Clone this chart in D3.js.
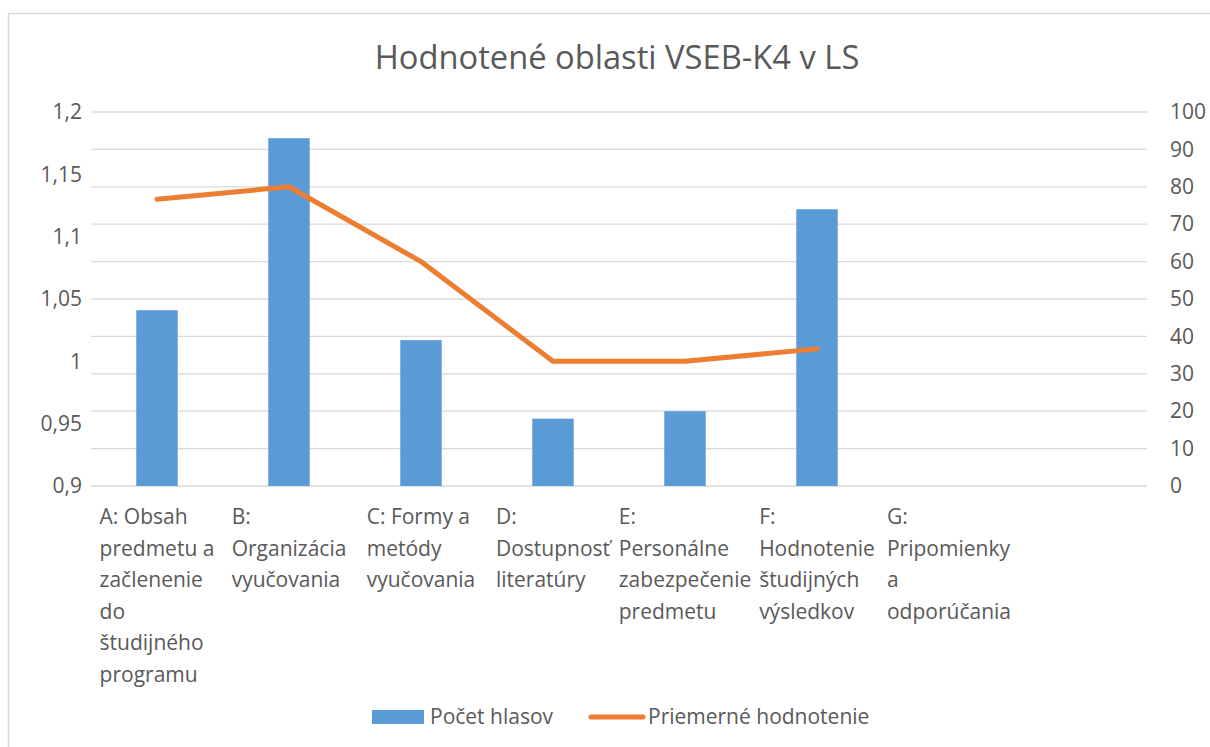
<!DOCTYPE html>
<html>
<head>
<meta charset="utf-8">
<script src="https://cdn.jsdelivr.net/npm/d3@7"></script>
<style>
  html, body { margin: 0; padding: 0; background: #fff; }
  text { font-family: "Open Sans", sans-serif; fill: #595959; }
</style>
</head>
<body>
<div id="chart"></div>
<script>
// category labels, already wrapped the way the original shows them
const categories = [
  ["A: Obsah", "predmetu a", "začlenenie", "do", "študijného", "programu"],
  ["B:", "Organizácia", "vyučovania"],
  ["C: Formy a", "metódy", "vyučovania"],
  ["D:", "Dostupnosť", "literatúry"],
  ["E:", "Personálne", "zabezpečenie", "predmetu"],
  ["F:", "Hodnotenie", "študijných", "výsledkov"],
  ["G:", "Pripomienky", "a", "odporúčania"],
  []
];
const votes = [47, 93, 39, 18, 20, 74, null, null];          // Počet hlasov (right axis)
const avgRating = [1.13, 1.14, 1.08, 1.0, 1.0, 1.01, null, null]; // Priemerné hodnotenie (left axis)
const leftTicks = [0.9, 0.95, 1, 1.05, 1.1, 1.15, 1.2];
const rightTicks = [0, 10, 20, 30, 40, 50, 60, 70, 80, 90, 100];

const W = 1210, H = 747;
const plot = { left: 91, right: 1147, top: 112, bottom: 486 };

const svg = d3.select("#chart").append("svg")
  .attr("width", W)
  .attr("height", H);

// chart frame (only top/left edges are in view)
svg.append("rect")
  .attr("x", 8.5).attr("y", 13.5)
  .attr("width", 1300).attr("height", 900)
  .attr("fill", "none")
  .attr("stroke", "#d9d9d9")
  .attr("stroke-width", 1.5);

const idx = categories.map((d, i) => i);

const x = d3.scaleBand()
  .domain(idx)
  .range([plot.left, plot.right])
  .paddingInner(0.686)
  .paddingOuter(0.343);

const yLeft = d3.scaleLinear().domain([0.9, 1.2]).range([plot.bottom, plot.top]);
const yRight = d3.scaleLinear().domain([0, 100]).range([plot.bottom, plot.top]);

// gridlines
svg.append("g")
  .selectAll("line")
  .data(rightTicks)
  .join("line")
  .attr("x1", plot.left).attr("x2", plot.right)
  .attr("y1", d => yRight(d)).attr("y2", d => yRight(d))
  .attr("stroke", "#d9d9d9")
  .attr("stroke-width", 1.3);

// --- bars ---
svg.append("g")
  .selectAll("rect")
  .data(idx.filter(i => votes[i] != null))
  .join("rect")
  .attr("x", i => x(i))
  .attr("y", i => yRight(votes[i]))
  .attr("width", x.bandwidth())
  .attr("height", i => yRight(0) - yRight(votes[i]))
  .attr("fill", "#5b9bd5");

// --- line ---
const line = d3.line()
  .defined(i => avgRating[i] != null)
  .x(i => x(i) + x.bandwidth() / 2)
  .y(i => yLeft(avgRating[i]));

svg.append("path")
  .datum(idx)
  .attr("d", line)
  .attr("fill", "none")
  .attr("stroke", "#ed7d31")
  .attr("stroke-width", 5)
  .attr("stroke-linecap", "round")
  .attr("stroke-linejoin", "round");

// --- axes ---
const fontSize = "21px";

const leftAxis = svg.append("g")
  .attr("transform", `translate(${plot.left - 6},0)`)
  .call(d3.axisLeft(yLeft).tickValues(leftTicks).tickSize(0)
    .tickFormat(d => String(+d.toFixed(2)).replace(".", ",")));
leftAxis.select(".domain").remove();
leftAxis.selectAll("text")
  .attr("fill", "#595959")
  .style("font-family", "Open Sans")
  .style("font-size", fontSize);

const rightAxis = svg.append("g")
  .attr("transform", `translate(${plot.right + 20},0)`)
  .call(d3.axisRight(yRight).tickValues(rightTicks).tickSize(0));
rightAxis.select(".domain").remove();
rightAxis.selectAll("text")
  .attr("fill", "#595959")
  .style("font-family", "Open Sans")
  .style("font-size", fontSize);

// --- category labels: block centred in band, lines left-aligned ---
const lineH = 31.5;
const catLabels = svg.append("g")
  .selectAll("text")
  .data(idx)
  .join("text")
  .style("font-size", fontSize)
  .attr("y", 524);

catLabels.each(function (i) {
  const t = d3.select(this);
  categories[i].forEach((s, k) => {
    t.append("tspan").attr("x", 0).attr("dy", k === 0 ? 0 : lineH).text(s);
  });
  let maxW = 0;
  t.selectAll("tspan").each(function () {
    maxW = Math.max(maxW, this.getComputedTextLength());
  });
  const left = x(i) + x.bandwidth() / 2 - maxW / 2;
  t.selectAll("tspan").attr("x", left);
});

// --- title ---
svg.append("text")
  .attr("x", 617)
  .attr("y", 69)
  .attr("text-anchor", "middle")
  .style("font-size", "32.7px")
  .text("Hodnotené oblasti VSEB-K4 v LS");

// --- legend ---
const legend = svg.append("g");
legend.append("rect")
  .attr("x", 372).attr("y", 710)
  .attr("width", 52).attr("height", 14)
  .attr("fill", "#5b9bd5");
legend.append("text")
  .attr("x", 430).attr("y", 724)
  .style("font-size", fontSize)
  .text("Počet hlasov");
legend.append("line")
  .attr("x1", 591).attr("x2", 643)
  .attr("y1", 717).attr("y2", 717)
  .attr("stroke", "#ed7d31")
  .attr("stroke-width", 5)
  .attr("stroke-linecap", "round");
legend.append("text")
  .attr("x", 648).attr("y", 724)
  .style("font-size", fontSize)
  .text("Priemerné hodnotenie");
</script>
</body>
</html>
